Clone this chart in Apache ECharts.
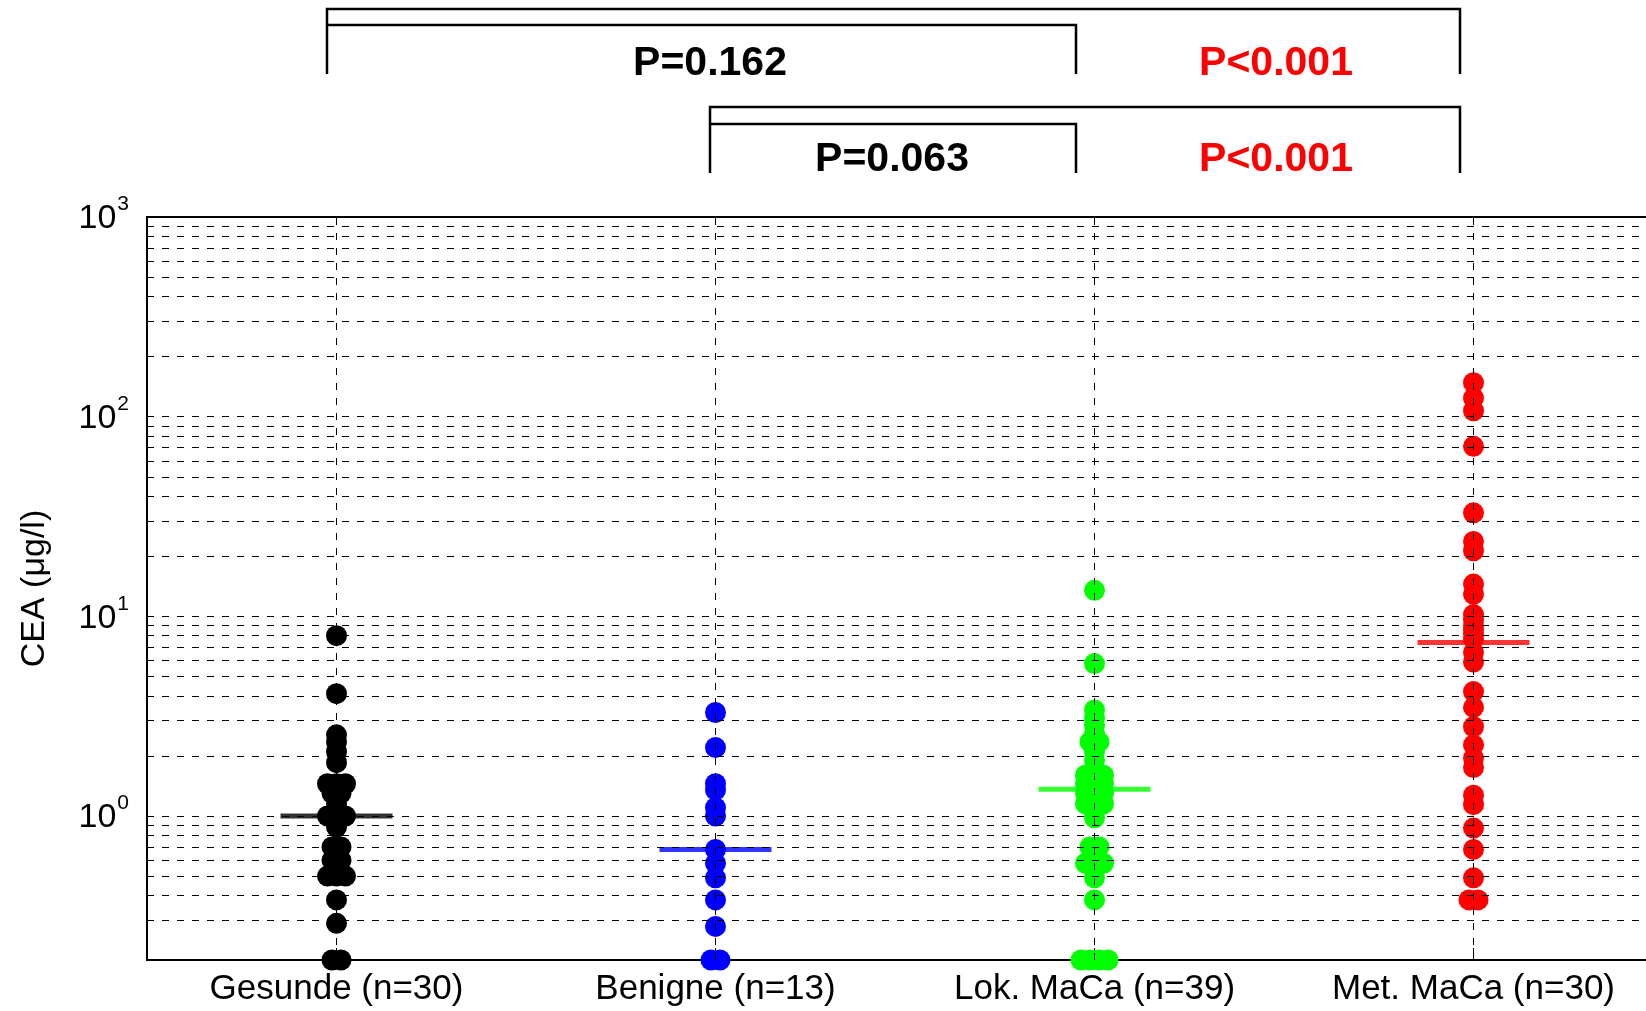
<!DOCTYPE html>
<html>
<head>
<meta charset="utf-8">
<script src="https://cdn.jsdelivr.net/npm/echarts@6/dist/echarts.min.js"></script>
<style>
  html, body { margin: 0; padding: 0; background: #fff; overflow: hidden; }
  #main { width: 1700px; height: 1011px; }
</style>
</head>
<body>
<div id="main"></div>
<script>
// groups on the x axis
var categories = ['Gesunde (n=30)', 'Benigne (n=13)', 'Lok. MaCa (n=39)', 'Met. MaCa (n=30)'];
var colors = ['#000000', '#0000ff', '#00ff00', '#ff0000'];

// CEA values per group
var gesunde = [8.0, 4.1, 2.55, 2.35, 2.1, 1.85, 1.45, 1.45, 1.45, 1.4, 1.3, 1.3, 1.15, 1.0, 1.0, 1.0,
  0.95, 0.88, 0.7, 0.7, 0.6, 0.6, 0.55, 0.5, 0.5, 0.5, 0.38, 0.29, 0.19, 0.19];
var benigne = [3.3, 2.2, 1.45, 1.35, 1.1, 1.0, 0.68, 0.58, 0.49, 0.38, 0.28, 0.19, 0.19];
var lokMaCa = [13.5, 5.8, 3.4, 3.1, 2.85, 2.6, 2.45, 2.35, 2.35, 2.1, 1.9, 1.6, 1.6, 1.6, 1.45, 1.45, 1.45,
  1.35, 1.3, 1.3, 1.3, 1.2, 1.15, 1.15, 1.15, 1.05, 0.98, 0.7, 0.7, 0.6, 0.58, 0.58, 0.58, 0.49, 0.38,
  0.19, 0.19, 0.19, 0.19];
var metMaCa = [148, 124, 107, 71, 33, 23.7, 21.3, 14.5, 12.9, 10.2, 9.6, 9.0, 8.6, 8.2, 7.7, 6.6, 5.9,
  4.2, 3.5, 2.8, 2.27, 1.95, 1.75, 1.27, 1.14, 0.87, 0.68, 0.49, 0.38, 0.38];
var groups = [gesunde, benigne, lokMaCa, metMaCa];

// median bars
var medians = [1.0, 0.68, 1.36, 7.4];

// log axis range and dashed grid values
var yMin = 0.19, yMax = 1000;
var gridValues = [0.3, 0.4, 0.5, 0.6, 0.7, 0.8, 0.9, 1,
  2, 3, 4, 5, 6, 7, 8, 9, 10,
  20, 30, 40, 50, 60, 70, 80, 90, 100,
  200, 300, 400, 500, 600, 700, 800, 900];

// significance brackets
var pLabels = ['P=0.162', 'P<0.001', 'P=0.063', 'P<0.001'];
var pColors = ['#000', '#ff0000', '#000', '#ff0000'];

var FONT = '"Liberation Sans", Arial, Helvetica, sans-serif';
var dash = [7, 8];

// spread identical values sideways (beeswarm)
function swarm(vals, step) {
  var count = {}, seen = {};
  vals.forEach(function (v) { count[v] = (count[v] || 0) + 1; });
  return vals.map(function (v) {
    seen[v] = seen[v] === undefined ? 0 : seen[v] + 1;
    return (seen[v] - (count[v] - 1) / 2) * step;
  });
}

var series = [];
// dashed grid (horizontal + vertical)
series.push({
  type: 'scatter',
  data: [],
  z: 1,
  silent: true,
  markLine: {
    silent: true,
    animation: false,
    symbol: ['none', 'none'],
    label: { show: false },
    lineStyle: { color: '#000', width: 1, type: dash },
    data: gridValues.map(function (v) { return { yAxis: v }; })
      .concat(categories.map(function (c) { return { xAxis: c }; }))
  }
});

groups.forEach(function (vals, gi) {
  var offs = swarm(vals, 9);
  series.push({
    type: 'scatter',
    z: 3,
    symbolSize: 21,
    itemStyle: { color: colors[gi], opacity: 1 },
    data: vals.map(function (v, i) {
      return { value: [gi, v], symbolOffset: [offs[i], 0] };
    })
  });
});

series.push({
  type: 'scatter',
  z: 4,
  symbol: 'rect',
  symbolSize: [112, 5],
  data: medians.map(function (m, gi) {
    return { value: [gi, m], itemStyle: { color: colors[gi] } };
  })
});

// bracket drawing
function bracket(pts) {
  return {
    type: 'polyline',
    silent: true,
    shape: { points: pts },
    style: { stroke: '#000', lineWidth: 2.5, fill: null }
  };
}
var xA = 327, xB = 710, xC = 1076, xD = 1460;
var graphics = [
  bracket([[xA, 74], [xA, 9], [xD, 9], [xD, 74]]),
  bracket([[xA, 25], [xC, 25], [xC, 74]]),
  bracket([[xB, 173], [xB, 107], [xD, 107], [xD, 173]]),
  bracket([[xB, 124], [xC, 124], [xC, 173]])
];
var pPos = [[710, 64], [1276, 64], [892, 160], [1276, 160]];
pLabels.forEach(function (t, i) {
  graphics.push({
    type: 'text',
    silent: true,
    x: pPos[i][0],
    y: pPos[i][1],
    style: {
      text: t,
      fill: pColors[i],
      font: 'bold 41px ' + FONT,
      align: 'center',
      verticalAlign: 'middle'
    }
  });
});

var chart = echarts.init(document.getElementById('main'));
chart.setOption({
  animation: false,
  backgroundColor: '#fff',
  grid: {
    left: 147,
    top: 217,
    right: 37,
    bottom: 51,
    show: true,
    borderColor: '#000',
    borderWidth: 2,
    backgroundColor: 'transparent'
  },
  xAxis: {
    type: 'category',
    data: categories,
    boundaryGap: true,
    axisLine: { show: true, lineStyle: { color: '#000', width: 2 } },
    axisTick: { show: true, inside: true, alignWithLabel: true, length: 12, lineStyle: { color: '#000' } },
    axisLabel: { color: '#000', fontSize: 35, fontFamily: FONT, margin: 12, interval: 0 },
    splitLine: { show: false }
  },
  yAxis: {
    type: 'log',
    logBase: 10,
    min: yMin,
    max: yMax,
    name: 'CEA (\u03bcg/l)',
    nameLocation: 'middle',
    nameGap: 95,
    nameTextStyle: { color: '#000', fontSize: 34, fontFamily: FONT },
    axisLine: { show: true, lineStyle: { color: '#000', width: 2 } },
    axisTick: { show: true, inside: true, length: 6, lineStyle: { color: '#000' } },
    splitLine: { show: false },
    axisLabel: {
      margin: 18,
      color: '#000',
      showMinLabel: false,
      formatter: function (v) {
        var e = Math.round(Math.log10(v));
        if (Math.abs(Math.log10(v) - e) > 1e-6) return '';
        return '{b|10}{s|' + e + '}';
      },
      rich: {
        b: { fontSize: 34, fontFamily: FONT, color: '#000', lineHeight: 46, verticalAlign: 'bottom', padding: [0, 0, 4, 0] },
        s: { fontSize: 21, fontFamily: FONT, color: '#000', lineHeight: 46, verticalAlign: 'top', padding: [0, 0, 0, 1] }
      }
    }
  },
  graphic: graphics,
  series: series
});
</script>
</body>
</html>
